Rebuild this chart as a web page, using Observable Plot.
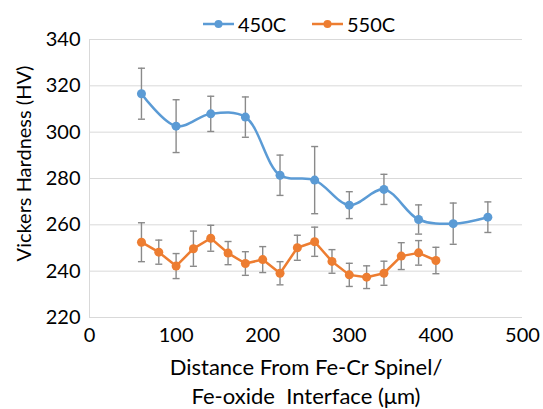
<!DOCTYPE html>
<html>
<head>
<meta charset="utf-8">
<script src="https://cdn.jsdelivr.net/npm/d3@7"></script>
<script src="https://cdn.jsdelivr.net/npm/@observablehq/plot@0.6"></script>
<style>
  html, body { margin: 0; padding: 0; background: #fff; }
  body { width: 543px; height: 409px; overflow: hidden; font-family: Lato, "Open Sans", sans-serif; }
  #wrap { position: relative; width: 543px; height: 409px; }
  #legend { position: absolute; left: 0; top: 0; width: 543px; height: 36px; font-size: 20px; color: #000; z-index: 2; }
  .item { position: absolute; top: 11px; display: flex; align-items: center; height: 26px; }
  .item svg { margin-right: 4px; }
</style>
</head>
<body>
<div id="wrap">
<div id="chart"></div>
<div id="legend"></div>
</div>
<script>
// ---- data ----
const seriesNames = ["450C", "550C"];
const seriesColors = ["#5b9bd5", "#ed7d31"];

const x450 = [60, 100, 140, 180, 220, 260, 300, 340, 380, 420, 460];
const hv450 = [316.6, 302.6, 307.9, 306.5, 281.4, 279.3, 268.5, 275.3, 262.3, 260.5, 263.3];
const err450 = [11, 11.4, 7.6, 8.7, 8.7, 14.5, 5.8, 6.5, 6.3, 8.9, 6.6];

const x550 = [60, 80, 100, 120, 140, 160, 180, 200, 220, 240, 260, 280, 300, 320, 340, 360, 380, 400];
const hv550 = [252.5, 248.2, 242.2, 249.7, 254.2, 247.8, 243.3, 245.0, 239.1, 250.1, 252.7, 244.2, 238.4, 237.4, 239.1, 246.5, 247.9, 244.6];
const err550 = [8.4, 5.2, 5.4, 7.6, 5.6, 5.0, 5.1, 5.6, 5.0, 5.4, 6.3, 5.1, 5.0, 4.9, 5.2, 5.8, 5.3, 5.7];

const xTicks = [0, 100, 200, 300, 400, 500];
const yTicks = [220, 240, 260, 280, 300, 320, 340];
const xTitle = "Distance From Fe-Cr Spinel/\nFe-oxide  Interface (μm)";
const yTitle = "Vickers Hardness (HV)";

// ---- build tables ----
const s450 = x450.map((x, i) => ({x, y: hv450[i], e: err450[i]}));
const s550 = x550.map((x, i) => ({x, y: hv550[i], e: err550[i]}));

// ---- legend ----
const legend = document.getElementById("legend");
const legendLeft = [203, 312];
seriesNames.forEach((name, i) => {
  const d = document.createElement("div");
  d.className = "item";
  d.style.left = legendLeft[i] + "px";
  d.innerHTML = `<svg width="31" height="12"><line x1="0" x2="31" y1="6" y2="6" stroke="${seriesColors[i]}" stroke-width="2.5"/><circle cx="15.5" cy="6" r="4" fill="${seriesColors[i]}"/></svg><span>${name}</span>`;
  legend.appendChild(d);
});

// horizontal cap symbol for error bars
const capSymbol = {
  draw(context, size) {
    const w = Math.sqrt(size / Math.PI);
    context.moveTo(-w, 0);
    context.lineTo(w, 0);
  }
};

const errColor = "#8a8a8a";
function errorMarks(data) {
  return [
    Plot.ruleX(data, {x: "x", y1: d => d.y - d.e, y2: d => d.y + d.e, stroke: errColor, strokeWidth: 1.4}),
    Plot.dot(data, {x: "x", y: d => d.y + d.e, symbol: capSymbol, r: 3.5, stroke: errColor, strokeWidth: 1.4, fill: "none"}),
    Plot.dot(data, {x: "x", y: d => d.y - d.e, symbol: capSymbol, r: 3.5, stroke: errColor, strokeWidth: 1.4, fill: "none"})
  ];
}

const chart = Plot.plot({
  width: 543,
  height: 409,
  marginTop: 39,
  marginBottom: 92,
  marginLeft: 89,
  marginRight: 21,
  style: {fontFamily: "Lato, 'Open Sans', sans-serif", fontSize: "20px", color: "#000", background: "#fff"},
  x: {domain: [0, 500], ticks: xTicks},
  y: {domain: [220, 340], ticks: yTicks},
  marks: [
    Plot.gridY(yTicks, {stroke: "#d9d9d9", strokeOpacity: 1, strokeWidth: 1}),
    Plot.ruleX([0], {stroke: "#d9d9d9", strokeWidth: 1}),
    Plot.ruleY([220], {stroke: "#d9d9d9", strokeWidth: 1}),
    Plot.axisX(xTicks, {tickSize: 0, tickPadding: 10, label: null, fontSize: 20}),
    Plot.axisY(yTicks, {tickSize: 0, tickPadding: 9, label: null, fontSize: 20}),
    Plot.text([yTitle], {frameAnchor: "left", rotate: -90, dx: -65, dy: -15, fontSize: 20, textAnchor: "middle", lineAnchor: "middle"}),
    Plot.text([xTitle], {frameAnchor: "bottom", dx: 0, dy: 63, fontSize: 22, textAnchor: "middle", lineAnchor: "middle", lineHeight: 1.3}),
    ...errorMarks(s450),
    Plot.line(s450, {x: "x", y: "y", stroke: seriesColors[0], strokeWidth: 2.5, curve: "catmull-rom"}),
    Plot.dot(s450, {x: "x", y: "y", r: 4.5, fill: seriesColors[0]}),
    ...errorMarks(s550),
    Plot.line(s550, {x: "x", y: "y", stroke: seriesColors[1], strokeWidth: 2.5}),
    Plot.dot(s550, {x: "x", y: "y", r: 4.5, fill: seriesColors[1]})
  ]
});
document.getElementById("chart").appendChild(chart);
</script>
</body>
</html>
